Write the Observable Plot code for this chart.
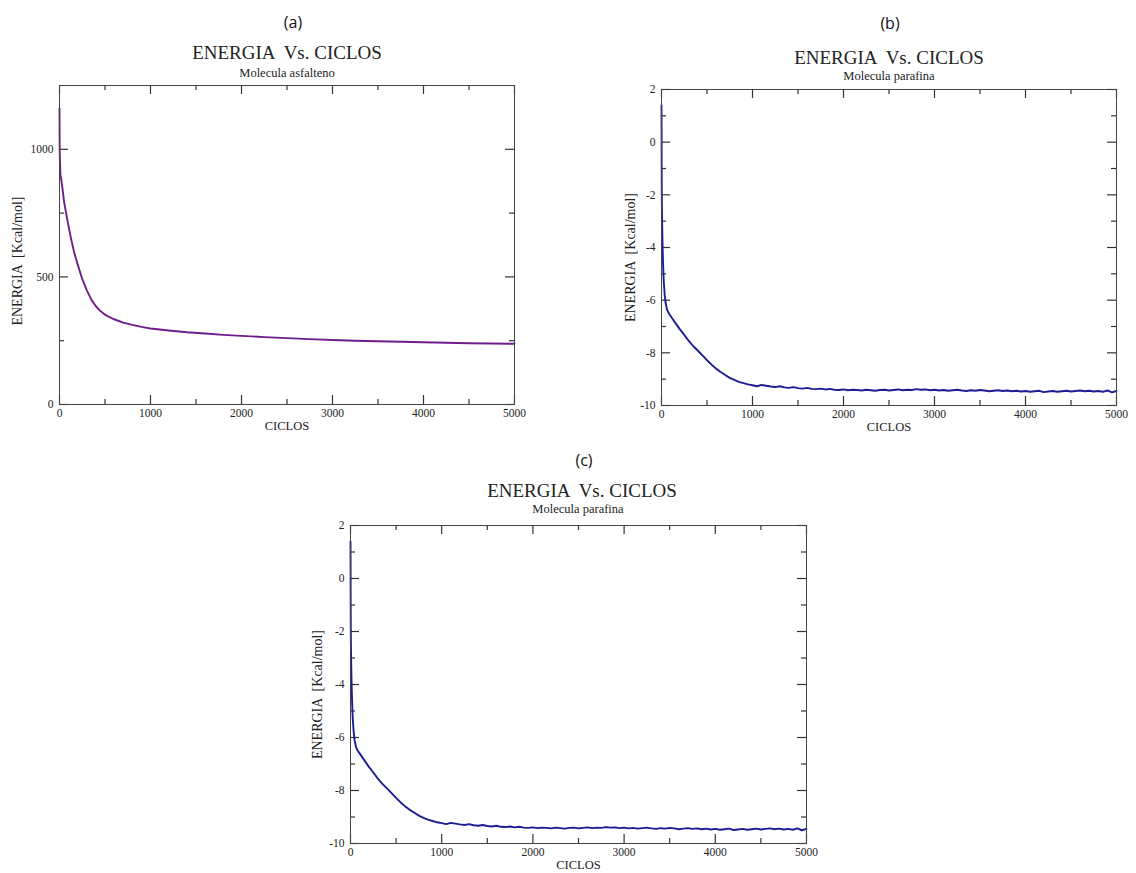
<!DOCTYPE html>
<html><head><meta charset="utf-8">
<script src="https://cdn.jsdelivr.net/npm/d3@7"></script>
<script src="https://cdn.jsdelivr.net/npm/@observablehq/plot@0.6"></script>
<style>
body{margin:0;background:#fff;}
#page{position:relative;width:1136px;height:873px;background:#fff;overflow:hidden;}
.t{position:absolute;transform:translate(-50%,-50%);white-space:pre;color:#222;line-height:1;}
.lab{font-family:"Open Sans",sans-serif;font-size:16px;color:#111;}
.ttl{font-family:"Liberation Serif",serif;font-size:19px;}
.sub{font-family:"Liberation Serif",serif;font-size:12.5px;}
.p{position:absolute;}
</style></head><body><div id="page"></div>
<script>
// ---- data ----
const cyclesA = [0,2,5,10,20,35,50,75,100,130,160,200,250,300,350,400,450,500,550,600,700,800,900,1000,1200,1400,1600,1800,2000,2250,2500,2750,3000,3250,3500,3750,4000,4250,4500,4750,5000];
const energyA = [1160,1000,955,900,880,840,795,745,697,645,598,548,492,447,411,385,366,352,342,334,321,312,304,298,290,283,278,273,269,264,260,256,253,250,248,246,244,242,240,239,238];

const cyclesB = [0,1,2,3,5,8,12,18,25,35,45,60,80,100,130,160,200,250,300,350,400,450,500,550,600,650,700,750,800,850,900,950,1000,1050,1100,1150,
1200,1250,1300,1350,1400,1450,1500,1550,1600,1650,1700,1750,1800,1850,1900,1950,2000,2050,2100,2150,2200,2250,2300,2350,2400,2450,2500,2550,2600,2650,2700,2750,2800,2850,2900,2950,3000,3050,3100,3150,3200,3250,3300,3350,3400,3450,3500,3550,3600,3650,3700,3750,3800,3850,3900,3950,4000,4050,4100,4150,4200,4250,4300,4350,4400,4450,4500,4550,4600,4650,4700,4750,4800,4850,4900,4950,5000];
const energyB = [1.4,0.5,-1.0,-1.85,-2.6,-3.3,-4.0,-4.7,-5.3,-5.8,-6.1,-6.35,-6.5,-6.6,-6.75,-6.9,-7.1,-7.32,-7.55,-7.75,-7.92,-8.1,-8.28,-8.45,-8.6,-8.73,-8.84,-8.95,-9.03,-9.1,-9.15,-9.2,-9.23,-9.27,-9.22,-9.25,
-9.28,-9.30,-9.27,-9.31,-9.33,-9.30,-9.34,-9.36,-9.33,-9.37,-9.38,-9.36,-9.39,-9.37,-9.40,-9.41,-9.39,-9.42,-9.40,-9.41,-9.43,-9.40,-9.42,-9.44,-9.41,-9.40,-9.43,-9.41,-9.39,-9.42,-9.40,-9.41,-9.38,-9.40,-9.39,-9.42,-9.40,-9.43,-9.41,-9.44,-9.42,-9.40,-9.43,-9.45,-9.42,-9.44,-9.41,-9.43,-9.46,-9.44,-9.42,-9.45,-9.43,-9.46,-9.44,-9.47,-9.45,-9.48,-9.46,-9.44,-9.49,-9.47,-9.45,-9.48,-9.46,-9.44,-9.47,-9.45,-9.43,-9.46,-9.44,-9.47,-9.45,-9.48,-9.43,-9.50,-9.45];

const xMajor = [0,1000,2000,3000,4000,5000];
const xMinor = [500,1500,2500,3500,4500];
const yMajorA = [0,500,1000];
const yMinorA = [250,750];
const yMajorB = [-10,-8,-6,-4,-2,0,2];
const yMinorB = [-9,-7,-5,-3,-1,1];

const panelLabels = ["(a)","(b)","(c)"];
const titles = ["ENERGIA  Vs. CICLOS","ENERGIA  Vs. CICLOS","ENERGIA  Vs. CICLOS"];
const subtitles = ["Molecula asfalteno","Molecula parafina","Molecula parafina"];
const xLabel = "CICLOS";
const yLabel = "ENERGIA  [Kcal/mol]";

// ---- drawing ----
const page = document.getElementById("page");
function addText(cls, txt, x, y){
  const d = document.createElement("div");
  d.className = "t " + cls; d.textContent = txt;
  d.style.left = x + "px"; d.style.top = y + "px";
  page.appendChild(d);
}
const fmt = d => String(d);

function panel(cfg){
  const data = cfg.cycles.map((c,i)=>({c, e: cfg.energy[i]}));
  const fw = cfg.width - cfg.ml - cfg.mr;
  const fh = cfg.height - cfg.mt - cfg.mb;
  const tickStyle = {stroke:"#333", strokeWidth:1.2};
  const tickMarks = [];
  for (const [xt, yt, s] of [[xMajor, cfg.yMajor, 9], [xMinor, cfg.yMinor, 5]]) {
    tickMarks.push(Plot.ruleX(xt, {x: d=>d, insetTop: fh - s, ...tickStyle}));     // bottom, inward
    tickMarks.push(Plot.ruleX(xt, {x: d=>d, insetBottom: fh - s, ...tickStyle}));  // top, inward
    tickMarks.push(Plot.ruleY(yt, {y: d=>d, insetRight: fw - s, ...tickStyle}));   // left, inward
    tickMarks.push(Plot.ruleY(yt, {y: d=>d, insetLeft: fw - s, ...tickStyle}));    // right, inward
  }
  const chart = Plot.plot({
    width: cfg.width, height: cfg.height,
    marginTop: cfg.mt, marginRight: cfg.mr, marginBottom: cfg.mb, marginLeft: cfg.ml,
    x: {domain:[0,5000]},
    y: {domain: cfg.yDomain},
    style: {fontFamily:'"Liberation Serif", serif', fontSize:"11.5px", color:"#222", background:"transparent", overflow:"visible"},
    marks: [
      Plot.axisX({anchor:"bottom", ticks: xMajor, tickSize: 0, tickPadding: 4, tickFormat: fmt, label: null}),
      Plot.axisY({anchor:"left", ticks: cfg.yMajor, tickSize: 0, tickPadding: 6, tickFormat: fmt, label: null}),
      ...tickMarks,
      Plot.line(data, {x:"c", y:"e", stroke: cfg.color, strokeWidth: 1.9}),
      Plot.frame({stroke:"#444", strokeWidth: 1}),
      Plot.text([xLabel], {text: d=>d, frameAnchor:"bottom", dy: 25, fontSize: 12.5}),
      Plot.text([yLabel], {text: d=>d, frameAnchor:"left", textAnchor:"middle", rotate:-90, dx: cfg.ylDx, dy: cfg.ylDy, fontSize: 14})
    ]
  });
  chart.classList.add("p");
  chart.style.left = cfg.left + "px";
  chart.style.top = cfg.top + "px";
  page.appendChild(chart);
}

panel({cycles:cyclesA, energy:energyA, yDomain:[0,1250], yMajor:yMajorA, yMinor:yMinorA, color:"#6e1d8a",
  left:0, top:80, width:560, height:369, mt:5, mr:46, mb:45, ml:59, ylDx:-42, ylDy:16});
panel({cycles:cyclesB, energy:energyB, yDomain:[-10,2], yMajor:yMajorB, yMinor:yMinorB, color:"#1c1c94",
  left:600, top:80, width:536, height:370, mt:9, mr:20, mb:45, ml:61, ylDx:-31, ylDy:10});
panel({cycles:cyclesB, energy:energyB, yDomain:[-10,2], yMajor:yMajorB, yMinor:yMinorB, color:"#1c1c94",
  left:290, top:515, width:560, height:358, mt:10, mr:44, mb:30, ml:60, ylDx:-33, ylDy:10});

addText("lab", panelLabels[0], 293, 22);
addText("ttl", titles[0], 287, 52);
addText("sub", subtitles[0], 287, 73);
addText("lab", panelLabels[1], 890, 23);
addText("ttl", titles[1], 889, 57);
addText("sub", subtitles[1], 889, 76);
addText("lab", panelLabels[2], 584, 460);
addText("ttl", titles[2], 582, 490);
addText("sub", subtitles[2], 578, 509);
</script>
</body></html>
